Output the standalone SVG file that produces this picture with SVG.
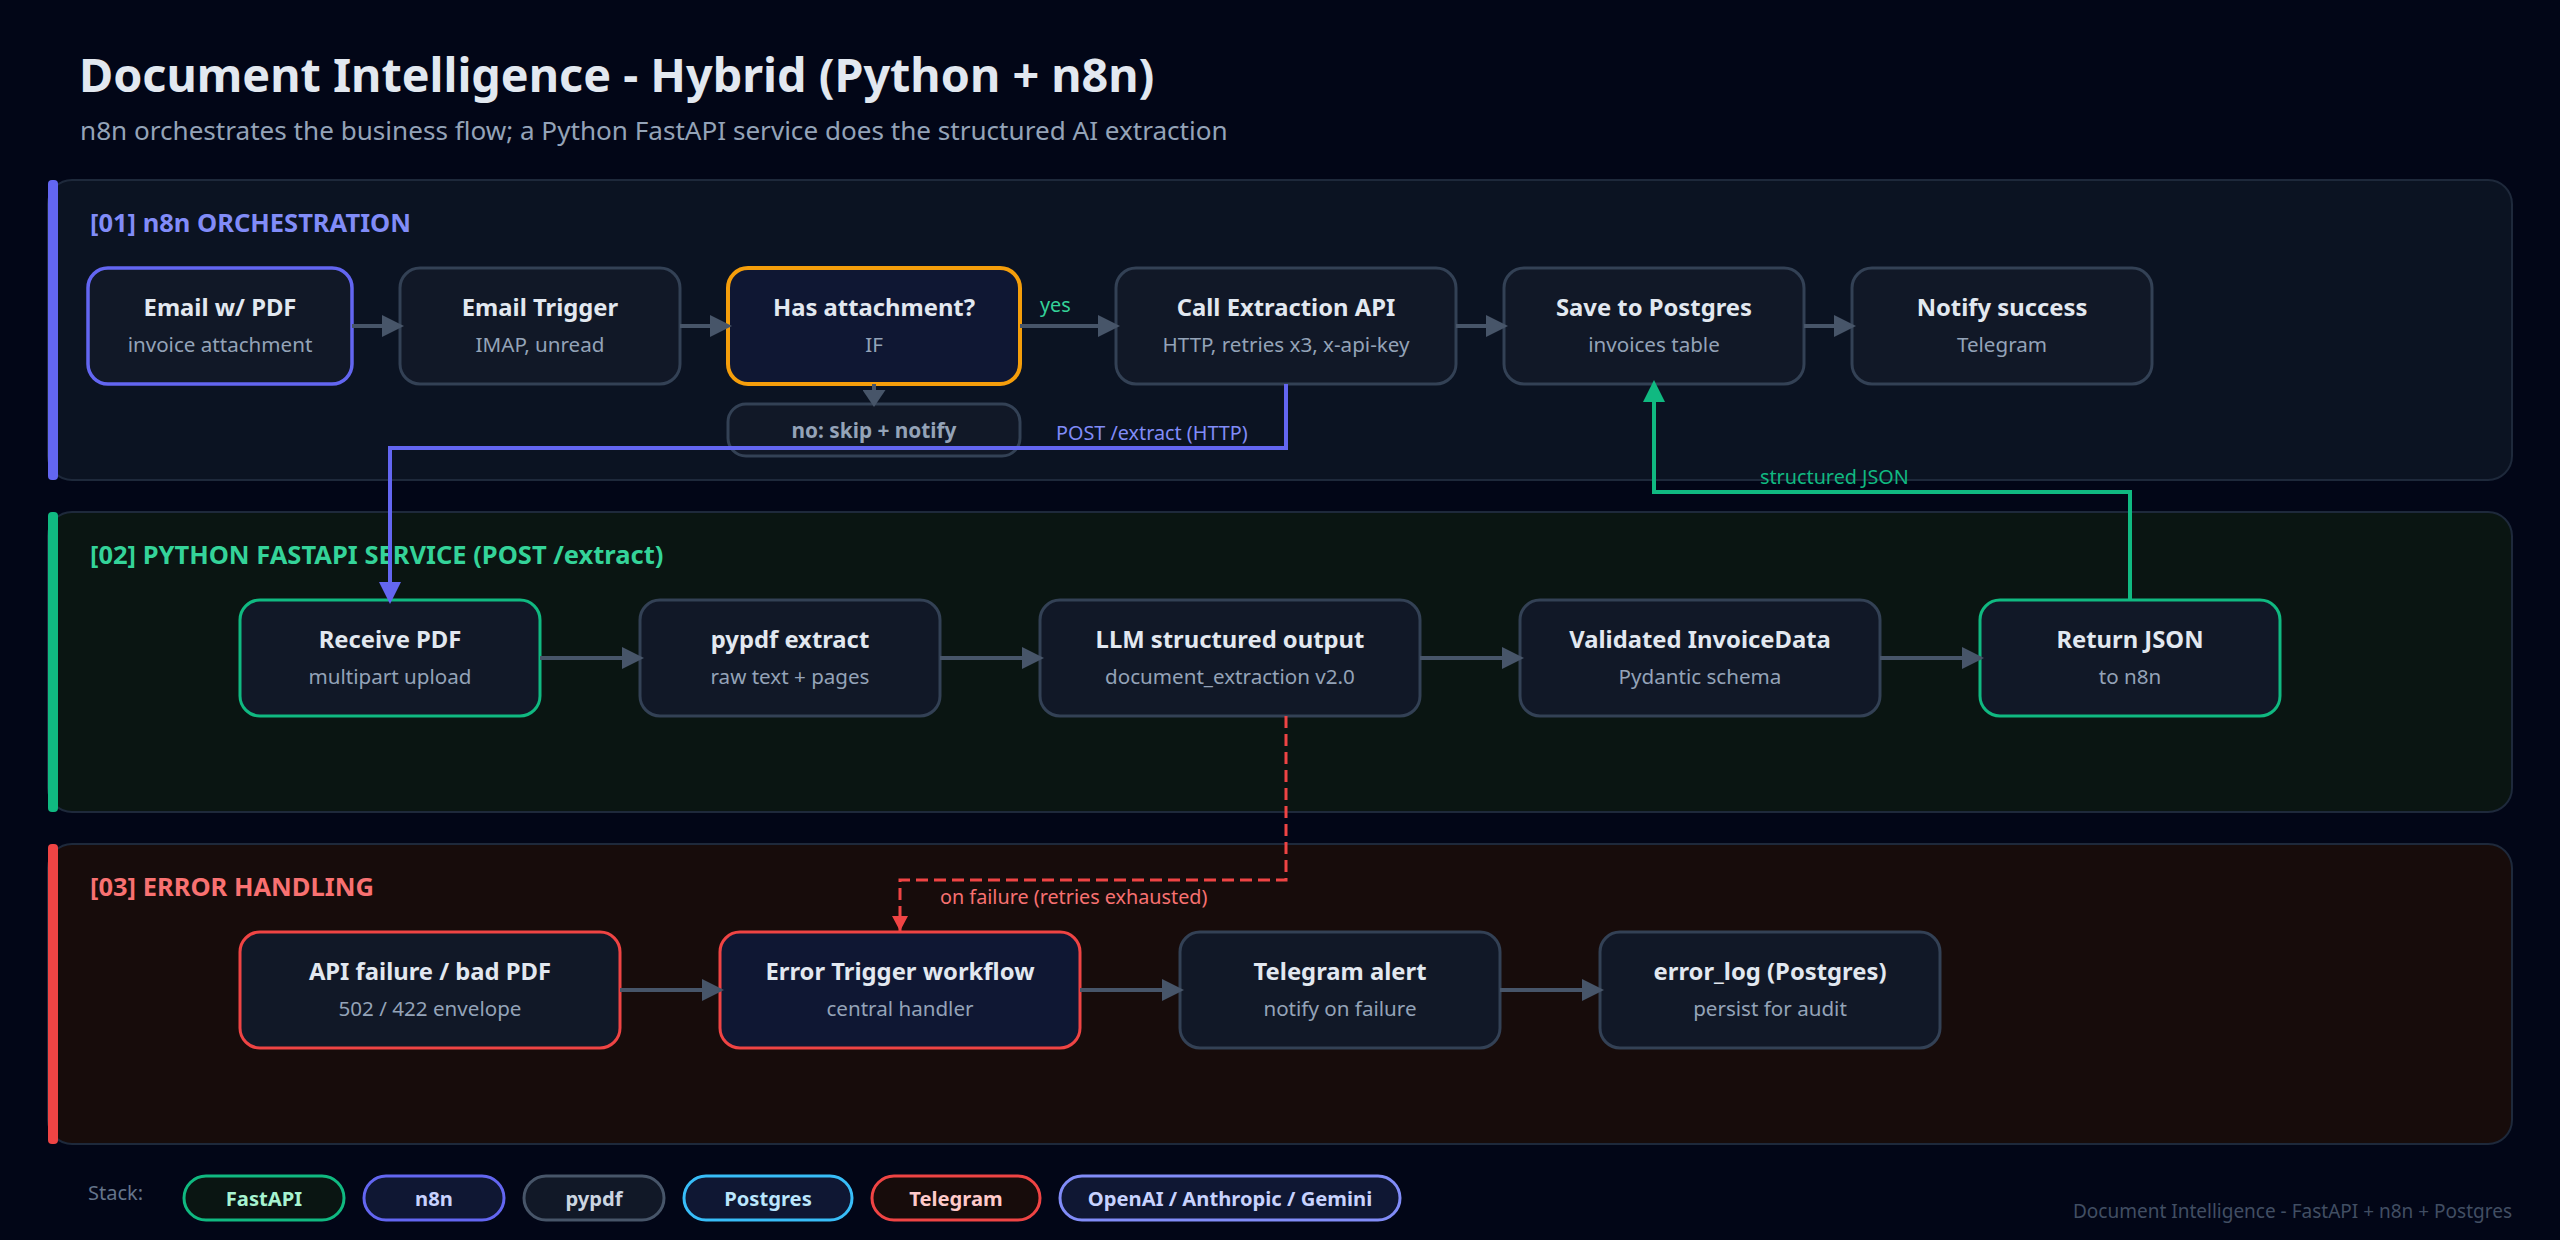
<svg xmlns="http://www.w3.org/2000/svg" width="2560" height="1240" viewBox="0 0 2560 1240">
<style>
text{font-family:"Noto Sans","Open Sans",sans-serif}
.panel{stroke:#1e293b;stroke-width:2}
.head{font-size:25.5px;font-weight:700}
.n{fill:#111827;stroke:#334155;stroke-width:3}
.t{font-size:23.8px;font-weight:700;fill:#e2e8f0;text-anchor:middle}
.s{font-size:20.6px;fill:#94a3b8;text-anchor:middle}
.c{fill:none;stroke-width:4;marker-end:url(#ah)}
.l{font-size:19.8px}
.pill{stroke-width:3}
.pt{font-size:20.2px;font-weight:700;text-anchor:middle}
</style>
<defs>
<marker id="ah" markerUnits="userSpaceOnUse" viewBox="0 0 22 22" refX="18" refY="11" markerWidth="22" markerHeight="22" orient="auto"><path d="M0 0L22 11L0 22Z" fill="context-stroke"/></marker>
<marker id="ah-short" markerUnits="userSpaceOnUse" viewBox="0 0 17 23" refX="14" refY="11.5" markerWidth="17" markerHeight="23" orient="auto"><path d="M0 0L17 11.5L0 23Z" fill="context-stroke"/></marker>
<marker id="ah-red" markerUnits="userSpaceOnUse" viewBox="0 0 15 16" refX="16" refY="8" markerWidth="15" markerHeight="16" orient="auto"><path d="M0 0L15 8L0 16Z" fill="context-stroke"/></marker>
</defs>
<rect width="2560" height="1240" fill="#020617"/>
<text x="79" y="92" font-size="46.7" font-weight="700" fill="#e2e8f0">Document Intelligence - Hybrid (Python + n8n)</text>
<text x="80" y="140" font-size="26.1" fill="#94a3b8">n8n orchestrates the business flow; a Python FastAPI service does the structured AI extraction</text>

<g id="panel-1"><rect class="panel" x="48" y="180" width="2464" height="300" rx="24" fill="#0b1322"/><rect x="48" y="180" width="10" height="300" rx="4" fill="#6366f1"/><text class="head" x="90" y="232" fill="#818cf8">[01] n8n ORCHESTRATION</text></g>
<g id="panel-2"><rect class="panel" x="48" y="512" width="2464" height="300" rx="24" fill="#0a1512"/><rect x="48" y="512" width="10" height="300" rx="4" fill="#10b981"/><text class="head" x="90" y="564" fill="#34d399">[02] PYTHON FASTAPI SERVICE (POST /extract)</text></g>
<g id="panel-3"><rect class="panel" x="48" y="844" width="2464" height="300" rx="24" fill="#170c0b"/><rect x="48" y="844" width="10" height="300" rx="4" fill="#ef4444"/><text class="head" x="90" y="896" fill="#f87171">[03] ERROR HANDLING</text></g>

<g id="n-email"><rect class="n" style="stroke:#6366f1;stroke-width:3.5" x="88" y="268" width="264" height="116" rx="20"/><text class="t" x="220" y="315.5">Email w/ PDF</text><text class="s" x="220" y="352">invoice attachment</text></g>
<g id="n-trigger"><rect class="n" x="400" y="268" width="280" height="116" rx="20"/><text class="t" x="540" y="315.5">Email Trigger</text><text class="s" x="540" y="352">IMAP, unread</text></g>
<g id="n-if"><rect class="n" style="stroke:#f59e0b;stroke-width:4;fill:#0f1733" x="728" y="268" width="292" height="116" rx="20"/><text class="t" x="874" y="315.5">Has attachment?</text><text class="s" x="874" y="352">IF</text></g>
<g id="n-skip"><rect class="n" x="728" y="404" width="292" height="52" rx="18"/><text x="874" y="438" font-size="20.8" font-weight="700" fill="#94a3b8" text-anchor="middle">no: skip + notify</text></g>
<g id="n-call"><rect class="n" x="1116" y="268" width="340" height="116" rx="20"/><text class="t" x="1286" y="315.5">Call Extraction API</text><text class="s" x="1286" y="352">HTTP, retries x3, x-api-key</text></g>
<g id="n-save"><rect class="n" x="1504" y="268" width="300" height="116" rx="20"/><text class="t" x="1654" y="315.5">Save to Postgres</text><text class="s" x="1654" y="352">invoices table</text></g>
<g id="n-notify"><rect class="n" x="1852" y="268" width="300" height="116" rx="20"/><text class="t" x="2002" y="315.5">Notify success</text><text class="s" x="2002" y="352">Telegram</text></g>

<g id="n-receive"><rect class="n" style="stroke:#10b981" x="240" y="600" width="300" height="116" rx="20"/><text class="t" x="390" y="647.5">Receive PDF</text><text class="s" x="390" y="684">multipart upload</text></g>
<g id="n-pypdf"><rect class="n" x="640" y="600" width="300" height="116" rx="20"/><text class="t" x="790" y="647.5">pypdf extract</text><text class="s" x="790" y="684">raw text + pages</text></g>
<g id="n-llm"><rect class="n" x="1040" y="600" width="380" height="116" rx="20"/><text class="t" x="1230" y="647.5">LLM structured output</text><text class="s" x="1230" y="684">document_extraction v2.0</text></g>
<g id="n-valid"><rect class="n" x="1520" y="600" width="360" height="116" rx="20"/><text class="t" x="1700" y="647.5">Validated InvoiceData</text><text class="s" x="1700" y="684">Pydantic schema</text></g>
<g id="n-return"><rect class="n" style="stroke:#10b981" x="1980" y="600" width="300" height="116" rx="20"/><text class="t" x="2130" y="647.5">Return JSON</text><text class="s" x="2130" y="684">to n8n</text></g>

<g id="n-fail"><rect class="n" style="stroke:#ef4444" x="240" y="932" width="380" height="116" rx="20"/><text class="t" x="430" y="979.5">API failure / bad PDF</text><text class="s" x="430" y="1016">502 / 422 envelope</text></g>
<g id="n-errtrig"><rect class="n" style="stroke:#ef4444;fill:#0f1733" x="720" y="932" width="360" height="116" rx="20"/><text class="t" x="900" y="979.5">Error Trigger workflow</text><text class="s" x="900" y="1016">central handler</text></g>
<g id="n-alert"><rect class="n" x="1180" y="932" width="320" height="116" rx="20"/><text class="t" x="1340" y="979.5">Telegram alert</text><text class="s" x="1340" y="1016">notify on failure</text></g>
<g id="n-log"><rect class="n" x="1600" y="932" width="340" height="116" rx="20"/><text class="t" x="1770" y="979.5">error_log (Postgres)</text><text class="s" x="1770" y="1016">persist for audit</text></g>

<g id="connectors">
<g stroke="#475569">
<path class="c" d="M352 326H400"/><path class="c" d="M680 326H728"/><path class="c" d="M1020 326H1116"/><path class="c" d="M1456 326H1504"/><path class="c" d="M1804 326H1852"/>
<path class="c" style="marker-end:url(#ah-short)" d="M874 384V404"/>
<path class="c" d="M540 658H640"/><path class="c" d="M940 658H1040"/><path class="c" d="M1420 658H1520"/><path class="c" d="M1880 658H1980"/>
<path class="c" d="M620 990H720"/><path class="c" d="M1080 990H1180"/><path class="c" d="M1500 990H1600"/>
</g>
<path class="c" stroke="#6366f1" d="M1286 384V448H390V600"/>
<path class="c" stroke="#10b981" d="M2130 600V492H1654V384"/>
<path class="c" stroke="#ef4444" style="stroke-width:3;marker-end:url(#ah-red)" stroke-dasharray="12 6" d="M1286 716V880H900V932"/>
<text class="l" x="1040" y="312" fill="#34d399">yes</text>
<text class="l" x="1056" y="440" fill="#818cf8">POST /extract (HTTP)</text>
<text class="l" x="1760" y="484" fill="#10b981">structured JSON</text>
<text class="l" x="940" y="904" fill="#f87171">on failure (retries exhausted)</text>
</g>

<g id="stack">
<text x="88" y="1200" font-size="20" fill="#64748b">Stack:</text>
<rect class="pill" x="184" y="1176" width="160" height="44" rx="22" fill="#0a1512" stroke="#10b981"/><text class="pt" x="264" y="1206" fill="#a7f3d0">FastAPI</text>
<rect class="pill" x="364" y="1176" width="140" height="44" rx="22" fill="#0f1733" stroke="#6366f1"/><text class="pt" x="434" y="1206" fill="#c7d2fe">n8n</text>
<rect class="pill" x="524" y="1176" width="140" height="44" rx="22" fill="#111827" stroke="#475569"/><text class="pt" x="594" y="1206" fill="#cbd5e1">pypdf</text>
<rect class="pill" x="684" y="1176" width="168" height="44" rx="22" fill="#0f1733" stroke="#38bdf8"/><text class="pt" x="768" y="1206" fill="#bae6fd">Postgres</text>
<rect class="pill" x="872" y="1176" width="168" height="44" rx="22" fill="#170c0b" stroke="#ef4444"/><text class="pt" x="956" y="1206" fill="#fecaca">Telegram</text>
<rect class="pill" x="1060" y="1176" width="340" height="44" rx="22" fill="#0f1733" stroke="#818cf8"/><text class="pt" x="1230" y="1206" fill="#c7d2fe">OpenAI / Anthropic / Gemini</text>
</g>
<text x="2512" y="1218" font-size="19" fill="#414e63" text-anchor="end">Document Intelligence - FastAPI + n8n + Postgres</text>
</svg>
